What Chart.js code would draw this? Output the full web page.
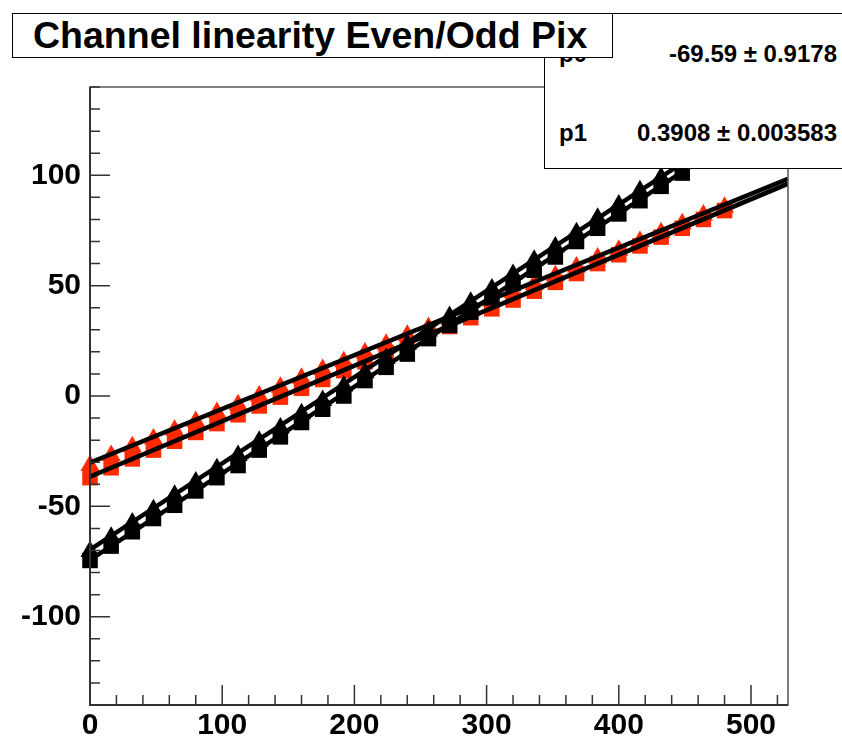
<!DOCTYPE html>
<html>
<head>
<meta charset="utf-8">
<script src="https://cdn.jsdelivr.net/npm/chart.js@4.4.1/dist/chart.umd.min.js"></script>
<style>
  body { margin: 0; background: #fff; }
  #wrap { position: relative; width: 842px; height: 738px; overflow: hidden; font-family: "Liberation Sans", Arial, sans-serif; font-weight: bold; }
  #stats { position: absolute; left: 544px; top: 13px; width: 320px; height: 154px; background: #fff; border: 1px solid #000; }
  #stats .lbl { position: absolute; left: 14px; font-size: 24px; }
  #stats .val { position: absolute; right: 28px; font-size: 24px; white-space: nowrap; }
  #title { position: absolute; left: 12px; top: 13px; width: 599px; height: 43px; background: #fff; border: 1px solid #000; }
  #title span { position: absolute; left: 20px; top: 0px; font-size: 37.5px; line-height: 43px; white-space: nowrap; }
</style>
</head>
<body>
<div id="wrap">
  <canvas id="linChart" width="842" height="738"></canvas>
  <div id="stats">
    <div class="lbl" style="top:26px">p0</div>
    <div class="val" style="top:26px">-69.59 ± 0.9178</div>
    <div class="lbl" style="top:105px">p1</div>
    <div class="val" style="top:105px">0.3908 ± 0.003583</div>
  </div>
  <div id="title"><span>Channel linearity Even/Odd Pix</span></div>
</div>
<script>
// DATA
const xBlack = [0, 16, 32, 48, 64, 80, 96, 112, 128, 144, 160, 176, 192, 208, 224,
    240, 256, 272, 288, 304, 320, 336, 352, 368, 384, 400, 416, 432, 448];
const blackTriangles = [-70.5, -64, -57.5, -51.5, -45, -39, -33, -27, -20.5, -14.5,
    -8, -2, 4.5, 10.5, 17, 23.5, 29.5, 36, 42.5, 48.5, 55, 61.5, 67.5, 74, 80.5,
    86.5, 93, 99, 105.5];
const blackSquares = [-74.5, -68, -61.5, -55.5, -49.5, -43, -37, -31.5, -24.5, -18.5,
    -12, -6, 0, 7, 13, 19, 26, 32, 38, 44.5, 51, 57, 63, 70, 76, 82.5, 88.5, 95, 101];

const xRed = [0, 16, 32, 48, 64, 80, 96, 112, 128, 144, 160, 176, 192, 208, 224, 240,
    256, 272, 288, 304, 320, 336, 352, 368, 384, 400, 416, 432, 448, 464, 480];
const redTriangles = [-31.5, -27, -23, -19.5, -15.5, -11.5, -7.5, -4, 0, 4, 8, 12,
    15.5, 19.5, 23.5, 27.5, 31, 35, 39, 43, 47, 50.5, 54.5, 58.5, 62.5, 66, 70, 74,
    78, 82, 85.5];
const redSquares = [-37, -32.5, -28.5, -24.5, -20.5, -16.5, -12.5, -8.5, -4.5, -0.5,
    3.5, 7.5, 11.5, 15.5, 19.5, 23.5, 27.5, 31.5, 35.5, 39.5, 43.5, 47.5, 51.5, 55.5,
    60, 64, 68, 72, 76, 80, 84];

// pol1 fits: black tri, black sq, red tri, red sq
const fitP0 = [-69.59, -74.3, -30.2, -36.6];
const fitP1 = [0.3908, 0.3925, 0.2435, 0.2515];
const fitRange = [0, 528];

const xTicks = [0, 100, 200, 300, 400, 500];
const yTicks = [-100, -50, 0, 50, 100];

const RED = '#ff2a00';
const FONT = { family: '"Liberation Sans", Arial, sans-serif', size: 30, weight: 'bold' };

function pts(xs, ys) {
    return xs.map((x, i) => ({ x: x, y: ys[i] }));
}
function fitLine(i) {
    return fitRange.map(x => ({ x: x, y: fitP0[i] + fitP1[i] * x }));
}
function markers(data, color, style) {
    return { data: data, showLine: false, pointStyle: style, pointRadius: 11,
        pointBackgroundColor: color, pointBorderWidth: 0, borderWidth: 0,
        clip: false, order: 1 };
}
function line(i) {
    return { data: fitLine(i), showLine: true, borderColor: '#000', borderWidth: 4.5,
        pointRadius: 0, fill: false, order: 0 };
}

// axis frame + inward ticks like the original
const frame = {
    id: 'frame',
    afterDatasetsDraw(chart) {
        const { ctx, chartArea: a, scales } = chart;
        ctx.save();
        ctx.strokeStyle = '#555';
        ctx.lineWidth = 1.5;
        ctx.strokeRect(a.left, a.top, a.right - a.left, a.bottom - a.top);
        ctx.strokeStyle = '#333';
        ctx.lineWidth = 2;
        ctx.beginPath();
        ctx.moveTo(a.left, a.top); ctx.lineTo(a.left, a.bottom); ctx.lineTo(a.right, a.bottom);
        ctx.stroke();
        ctx.lineWidth = 1.5;
        ctx.beginPath();
        for (let v = -140; v <= 140; v += 10) {
            const y = scales.y.getPixelForValue(v);
            const len = v % 50 === 0 ? 20 : 10;
            ctx.moveTo(a.left, y); ctx.lineTo(a.left + len, y);
        }
        for (let v = 20; v <= 520; v += 20) {
            const x = scales.x.getPixelForValue(v);
            const len = v % 100 === 0 ? 20 : 10;
            ctx.moveTo(x, a.bottom); ctx.lineTo(x, a.bottom - len);
        }
        ctx.stroke();
        ctx.restore();
    }
};

new Chart(document.getElementById('linChart'), {
    type: 'scatter',
    data: {
        datasets: [
            line(0), line(1), line(2), line(3),
            markers(pts(xBlack, blackTriangles), '#000', 'triangle'),
            markers(pts(xBlack, blackSquares), '#000', 'rect'),
            markers(pts(xRed, redTriangles), RED, 'triangle'),
            markers(pts(xRed, redSquares), RED, 'rect')
        ]
    },
    options: {
        responsive: false,
        animation: false,
        devicePixelRatio: 1,
        layout: { padding: { top: 87, right: 54, left: 0, bottom: 0 } },
        plugins: { legend: { display: false }, tooltip: { enabled: false } },
        scales: {
            x: {
                type: 'linear', min: 0, max: 528,
                grid: { display: false, drawTicks: false },
                border: { display: false },
                afterBuildTicks: s => { s.ticks = xTicks.map(v => ({ value: v })); },
                afterFit: s => { s.height = 33; },
                ticks: { font: FONT, color: '#000', padding: 3, maxRotation: 0 }
            },
            y: {
                type: 'linear', min: -140, max: 140,
                grid: { display: false, drawTicks: false },
                border: { display: false },
                afterBuildTicks: s => { s.ticks = yTicks.map(v => ({ value: v })); },
                afterFit: s => { s.width = 90; },
                ticks: { font: FONT, color: '#000', padding: 9 }
            }
        }
    },
    plugins: [frame]
});
</script>
</body>
</html>
